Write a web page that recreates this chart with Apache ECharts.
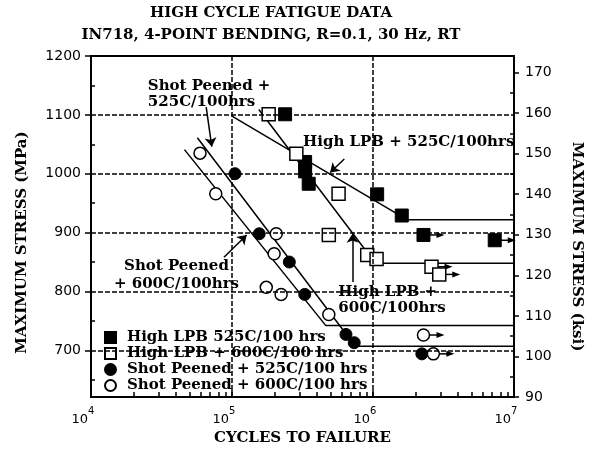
<!DOCTYPE html>
<html>
<head>
<meta charset="utf-8">
<script src="https://cdn.jsdelivr.net/npm/echarts@6.0.0/dist/echarts.min.js"></script>
<style>
  html, body { margin: 0; padding: 0; background: #fff; }
  #main { width: 592px; height: 451px; }
</style>
</head>
<body>
<div id="main"></div>
<script>
// points: [cycles to failure, max stress MPa]
var lpb525 = [[2.38e5, 1101], [3.3e5, 1020], [3.3e5, 1004], [3.5e5, 983], [1.07e6, 965], [1.6e6, 929], [2.28e6, 896], [7.3e6, 887]];
var lpb600 = [[1.82e5, 1101], [2.86e5, 1034], [5.7e5, 966], [4.86e5, 896], [9.1e5, 862], [1.06e6, 855], [2.6e6, 842], [2.95e6, 829]];
var sp525 = [[1.05e5, 1000], [1.56e5, 898], [2.55e5, 850], [3.28e5, 795], [6.43e5, 727], [7.36e5, 713], [2.22e6, 694]];
var sp600 = [[5.93e4, 1035], [7.67e4, 966], [2.06e5, 898], [1.99e5, 864], [1.75e5, 807], [2.23e5, 795], [4.86e5, 761], [2.28e6, 726], [2.68e6, 694]];
// run-outs (arrow to the right)
var runouts = [[2.28e6, 896], [7.3e6, 887], [2.6e6, 842], [2.95e6, 829], [2.28e6, 726], [2.68e6, 694]];

// fitted S-N lines
var fitLpb525 = [[1e5, 1098], [1.74e6, 922], [1e7, 922]];
var fitLpb600 = [[1.55e5, 1109], [1.04e6, 848], [1e7, 848]];
var fitSp525 = [[5.68e4, 1061], [7.5e5, 707], [1e7, 707]];
var fitSp600 = [[4.6e4, 1041], [4.63e5, 742], [1e7, 742]];

var seriesNames = ['High LPB 525C/100 hrs', 'High LPB + 600C/100 hrs', 'Shot Peened + 525C/100 hrs', 'Shot Peened + 600C/100 hrs'];

// annotations
var noteTexts = ['Shot Peened +\n525C/100hrs', 'High LPB + 525C/100hrs', 'High LPB +\n600C/100hrs', 'Shot Peened\n+ 600C/100hrs'];
var noteAnchors = [[2.53e4, 1162], [3.19e5, 1067], [5.68e5, 812], [4.04e4, 858]];
var noteArrows = [
  [[6.56e4, 1113], [7.19e4, 1046]],
  [[6.26e5, 1025], [4.97e5, 1002]],
  [[7.16e5, 816], [7.16e5, 898]],
  [[8.77e4, 858], [1.27e5, 896]]
];

// axes
var MPA_PER_KSI = 6.895;
var ksiMin = 90;
var mpaMax = 1200;
var mpaTicks = [700, 800, 900, 1000, 1100, 1200];
var mpaMinor = [650, 750, 850, 950, 1050, 1150];
var ksiTicks = [90, 100, 110, 120, 130, 140, 150, 160, 170];
var ksiMinor = [95, 105, 115, 125, 135, 145, 155, 165];
var mpaGrid = [700, 800, 900, 1000, 1100];
var cycleGrid = [1e5, 1e6];
var cycleMinor = [];
for (var d = 1e4; d < 1e7; d *= 10) {
  for (var m = 2; m <= 9; m++) cycleMinor.push(m * d);
}

var SERIF = 'DejaVu Serif';
var SANS = 'DejaVu Sans';
var mpaMin = ksiMin * MPA_PER_KSI;
var ksiMax = mpaMax / MPA_PER_KSI;

var chart = echarts.init(document.getElementById('main'));

var boldName = { fontFamily: SERIF, fontWeight: 'bold', fontSize: 15, color: '#000' };
var plainNum = function (v) { return String(Math.round(v)); };

var option = {
  animation: false,
  backgroundColor: '#fff',
  title: [
    { text: 'HIGH CYCLE FATIGUE DATA', left: 271, top: 6, textAlign: 'center', padding: 0,
      textStyle: { fontFamily: SERIF, fontWeight: 'bold', fontSize: 15, color: '#000' } },
    { text: 'IN718, 4-POINT BENDING, R=0.1, 30 Hz, RT', left: 271, top: 28, textAlign: 'center', padding: 0,
      textStyle: { fontFamily: SERIF, fontWeight: 'bold', fontSize: 15, color: '#000' } }
  ],
  grid: { left: 91, right: 73, top: 56, bottom: 50, show: true, borderColor: '#000', borderWidth: 2 },
  legend: {
    data: [
      { name: seriesNames[0], icon: 'rect' },
      { name: seriesNames[1], icon: 'rect' },
      { name: seriesNames[2], icon: 'circle' },
      { name: seriesNames[3], icon: 'circle' }
    ],
    orient: 'vertical', left: 104, top: 330, padding: 0,
    itemWidth: 11, itemHeight: 11, itemGap: 1,
    selectedMode: false,
    textStyle: { fontFamily: SERIF, fontWeight: 'bold', fontSize: 15, color: '#000', lineHeight: 15, padding: [0, 0, 0, 6] }
  },
  xAxis: [
    {
      type: 'log', logBase: 10, min: 1e4, max: 1e7,
      name: 'CYCLES TO FAILURE', nameLocation: 'middle', nameGap: 30, nameTextStyle: boldName,
      axisLine: { lineStyle: { color: '#000', width: 2 } },
      axisTick: { inside: true, length: 7, lineStyle: { color: '#000', width: 1.5 } },
      minorTick: { show: false },
      splitLine: { show: false },
      axisLabel: {
        margin: 9, padding: [0, 16, 0, 0],
        formatter: function (v) { return '{b|10}{s|' + Math.round(Math.log10(v)) + '}'; },
        rich: {
          b: { fontFamily: SANS, fontSize: 13, color: '#000', lineHeight: 20, verticalAlign: 'bottom' },
          s: { fontFamily: SANS, fontSize: 10, color: '#000', lineHeight: 10, verticalAlign: 'top' }
        }
      }
    },
    {
      // minor ticks at 2..9 x each decade
      type: 'log', logBase: 10, min: 1e4, max: 1e7, position: 'bottom',
      axisLine: { show: false }, axisLabel: { show: false }, splitLine: { show: false },
      axisTick: { show: true, inside: true, length: 5, customValues: cycleMinor, lineStyle: { color: '#000', width: 1.5 } }
    }
  ],
  yAxis: [
    {
      type: 'value', position: 'left', min: mpaMin, max: mpaMax,
      name: 'MAXIMUM STRESS (MPa)', nameLocation: 'middle', nameGap: 61,
      nameTextStyle: Object.assign({ padding: [0, 32, 0, 0] }, boldName),
      axisLine: { show: true, lineStyle: { color: '#000', width: 2 } },
      axisTick: { show: true, length: 6, customValues: mpaTicks, lineStyle: { color: '#000', width: 1.5 } },
      axisLabel: { customValues: mpaTicks, formatter: plainNum, margin: 10, fontFamily: SANS, fontSize: 14, color: '#000' },
      splitLine: { show: false }
    },
    {
      type: 'value', position: 'right', min: ksiMin, max: ksiMax,
      name: 'MAXIMUM STRESS (ksi)', nameLocation: 'middle', nameGap: 55, nameRotate: -90,
      nameTextStyle: Object.assign({ padding: [0, 0, 0, 40] }, boldName),
      axisLine: { show: true, lineStyle: { color: '#000', width: 2 } },
      axisTick: { show: true, length: 5, customValues: ksiTicks, lineStyle: { color: '#000', width: 1.5 } },
      axisLabel: { customValues: ksiTicks, formatter: plainNum, margin: 11, fontFamily: SANS, fontSize: 14, color: '#000' },
      splitLine: { show: false }
    },
    {
      type: 'value', position: 'left', min: mpaMin, max: mpaMax,
      axisLine: { show: false }, axisLabel: { show: false }, splitLine: { show: false },
      axisTick: { show: true, inside: true, length: 4, customValues: mpaMinor, lineStyle: { color: '#000', width: 1.5 } }
    },
    {
      type: 'value', position: 'right', min: ksiMin, max: ksiMax,
      axisLine: { show: false }, axisLabel: { show: false }, splitLine: { show: false },
      axisTick: { show: true, inside: true, length: 4, customValues: ksiMinor, lineStyle: { color: '#000', width: 1.5 } }
    }
  ],
  series: []
};

// dashed grid
var gridMarks = mpaGrid.map(function (v) { return { yAxis: v }; })
  .concat(cycleGrid.map(function (v) { return { xAxis: v }; }));
option.series.push({
  name: 'grid', type: 'line', data: [], silent: true, z: 1,
  markLine: {
    silent: true, symbol: 'none', label: { show: false }, animation: false,
    lineStyle: { color: '#000', width: 1.5, type: [5, 2] },
    data: gridMarks
  }
});

// fit lines
[fitLpb525, fitLpb600, fitSp525, fitSp600].forEach(function (fit, i) {
  option.series.push({
    name: 'fit' + i, type: 'line', data: fit, symbol: 'none', silent: true, z: 2,
    lineStyle: { color: '#000', width: 1.5 }
  });
});

// run-out arrows
option.series.push({
  name: 'runout', type: 'custom', data: runouts, z: 3, silent: true,
  renderItem: function (params, api) {
    var p = api.coord([api.value(0), api.value(1)]);
    var x = p[0], y = p[1];
    return {
      type: 'group', children: [
        { type: 'line', shape: { x1: x + 6, y1: y, x2: x + 15, y2: y }, style: { stroke: '#000', lineWidth: 1.5 } },
        { type: 'polygon', shape: { points: [[x + 21, y], [x + 13, y - 3], [x + 13, y + 3]] }, style: { fill: '#000' } }
      ]
    };
  }
});

// data points
var pointSets = [lpb525, lpb600, sp525, sp600];
var symbols = ['rect', 'rect', 'circle', 'circle'];
var sizes = [13, 13, 12, 12];
var filled = [true, false, true, false];
pointSets.forEach(function (pts, i) {
  option.series.push({
    name: seriesNames[i], type: 'scatter', data: pts, z: 4,
    symbol: symbols[i], symbolSize: sizes[i],
    itemStyle: filled[i]
      ? { color: '#000', borderColor: '#000', borderWidth: 1, opacity: 1 }
      : { color: '#fff', borderColor: '#000', borderWidth: 1.5, opacity: 1 }
  });
});

// annotations with arrows
var noteLineHeights = [16, 16, 16, 18];
var noteAlign = ['left', 'left', 'left', 'center'];
option.series.push({
  name: 'notes', type: 'custom', data: noteAnchors, z: 5, silent: true,
  renderItem: function (params, api) {
    var p = api.coord([api.value(0), api.value(1)]);
    var i = params.dataIndex;
    return {
      type: 'text', x: p[0], y: p[1],
      style: {
        text: noteTexts[i], fill: '#000', fontFamily: SERIF, fontWeight: 'bold', fontSize: 15,
        lineHeight: noteLineHeights[i], align: noteAlign[i], verticalAlign: 'top'
      }
    };
  },
  markLine: {
    silent: true, animation: false, symbol: ['none', 'arrow'], symbolSize: 9,
    label: { show: false },
    lineStyle: { color: '#000', width: 1.5, type: 'solid' },
    data: noteArrows.map(function (a) { return [{ coord: a[0] }, { coord: a[1] }]; })
  }
});

chart.setOption(option);
</script>
</body>
</html>
